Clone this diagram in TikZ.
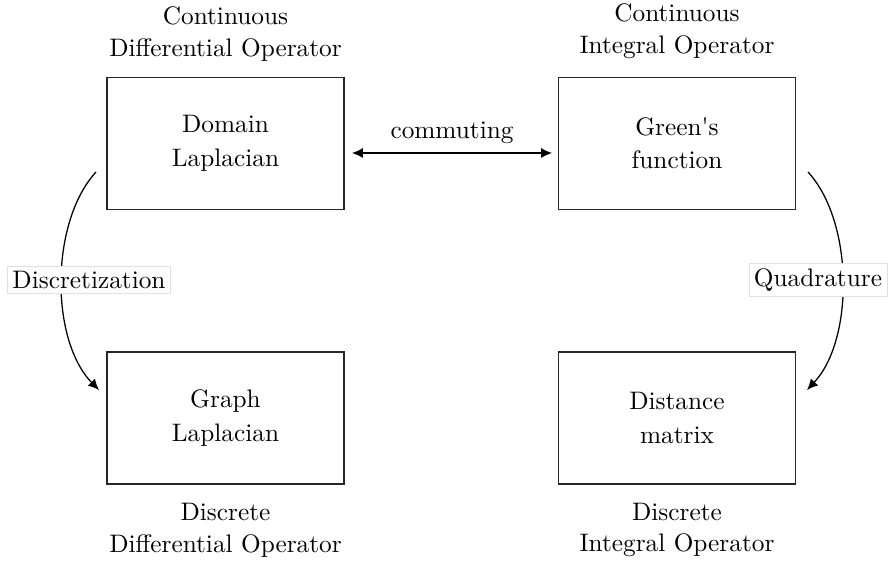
\documentclass[tikz,border=0pt]{standalone}
\usetikzlibrary{arrows.meta}
\begin{document}
\begin{tikzpicture}[x=0.3954pt,y=-0.3954pt,
  opbox/.style={draw=black!85,line width=0.5pt,minimum width=93.7pt,minimum height=52.2pt,align=center,inner sep=0pt},
  caption/.style={align=center,inner sep=0pt},
  edgelabel/.style={fill=white,draw=black!12,line width=0.3pt,inner sep=2pt},
  conn/.style={line width=0.5pt,-{Latex[length=4.3pt,width=4pt]}},
  biconn/.style={line width=0.5pt,{Latex[length=4.3pt,width=4pt]}-{Latex[length=4.3pt,width=4pt]}}]
\useasboundingbox (0,0) rectangle (889,561);
\node[opbox] (dom) at (225.5,143.5) {Domain\\[1.2pt]Laplacian};
\node[opbox] (green) at (677,143.5) {Green\textquotesingle s\\[1.2pt]function};
\node[opbox] (graph) at (225.5,418) {Graph\\[1.2pt]Laplacian};
\node[opbox] (dist) at (677,418) {Distance\\[1.2pt]matrix};
\node[caption] (c1) at (225.5,34) {Continuous\\[0.6pt]Differential Operator};
\node[caption] (c2) at (677,31) {Continuous\\[0.6pt]Integral Operator};
\node[caption] (c3) at (225.5,530) {Discrete\\[0.6pt]Differential Operator};
\node[caption] (c4) at (677,530) {Discrete\\[0.6pt]Integral Operator};
\coordinate (dl) at (352,153);
\coordinate (dr) at (552,153);
\draw[biconn] (dl) -- (dr);
\node (comm) at (452,133) {commuting};
\coordinate (ls) at (96,172);
\coordinate (le) at (99,390);
\coordinate (rs) at (808,172);
\coordinate (re) at (807,390);
\draw[conn] (ls) .. controls (50,222) and (50,340) .. (le);
\draw[conn] (rs) .. controls (854,222) and (854,340) .. (re);
\node[edgelabel] (disc) at (89,280) {Discretization};
\node[edgelabel] (quad) at (818,280) {Quadrature};
\end{tikzpicture}
\end{document}
